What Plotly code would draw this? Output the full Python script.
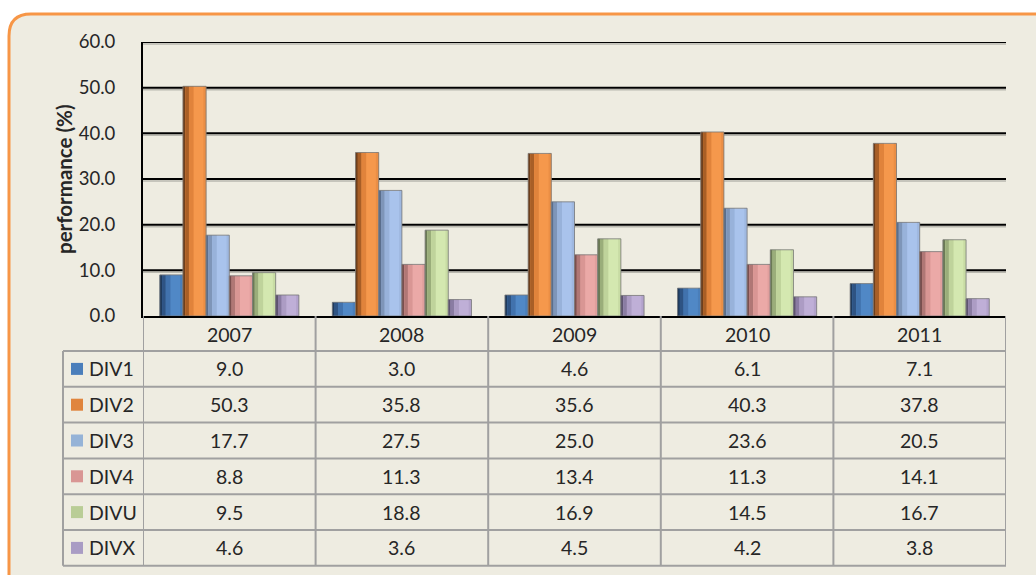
import plotly.graph_objects as go

years = ["2007", "2008", "2009", "2010", "2011"]
series_names = ["DIV1", "DIV2", "DIV3", "DIV4", "DIVU", "DIVX"]
div1 = [9.0, 3.0, 4.6, 6.1, 7.1]
div2 = [50.3, 35.8, 35.6, 40.3, 37.8]
div3 = [17.7, 27.5, 25.0, 23.6, 20.5]
div4 = [8.8, 11.3, 13.4, 11.3, 14.1]
divu = [9.5, 18.8, 16.9, 14.5, 16.7]
divx = [4.6, 3.6, 4.5, 4.2, 3.8]
y_title = "performance (%)"
y_ticks = [0, 10, 20, 30, 40, 50, 60]

all_values = [div1, div2, div3, div4, divu, divx]

# shading palettes: darkest, dark, mid, light, edge, legend key
palettes = [
    ["#1F3A5C", "#2E5383", "#4172AD", "#5088C6", "#4A7EB9", "#4A7EBB"],
    ["#6E3F1C", "#A85E26", "#E0833B", "#F5984C", "#EA8E45", "#E0853D"],
    ["#5A6E8C", "#7E95B8", "#98B2DA", "#A9C3EC", "#9FB8E0", "#95B3D7"],
    ["#7A4F4E", "#B07775", "#D99694", "#EBA9A7", "#E09F9D", "#D99694"],
    ["#6B7A55", "#9AAD7A", "#BFD39B", "#D4E8B0", "#C8DCA4", "#B9CD96"],
    ["#5E5470", "#8A7CA2", "#AC9CC4", "#BFAFD7", "#B3A3CC", "#A99CC4"],
]

W, H = 1036, 575
FONT = "Lato"
TXT = "#262626"
GRID_LINE = "#A0A0A0"
FS = 19.5
TICK_FS = 18.5

def py(px):
    return 1 - px / H

def pxx(px):
    return px / W

x_idx = list(range(len(years)))
n = len(series_names)
group = 0.806
bw = group / n

fig = go.Figure()
strips = [(0.0, 0.10, 0), (0.10, 0.26, 1), (0.26, 0.46, 2), (0.88, 1.0, 4)]
for i, (name, vals, pal) in enumerate(zip(series_names, all_values, palettes)):
    off = -group / 2 + i * bw
    fig.add_trace(go.Bar(x=x_idx, y=vals, name=name, offset=off, width=bw,
                         marker=dict(color=pal[3], line=dict(width=0)),
                         showlegend=False, hoverinfo="y"))
    for a, b, k in strips:
        fig.add_trace(go.Bar(x=x_idx, y=vals, offset=off + a * bw, width=(b - a) * bw,
                             marker=dict(color=pal[k], line=dict(width=0)),
                             showlegend=False, hoverinfo="skip"))
    fig.add_trace(go.Bar(x=x_idx, y=vals, offset=off, width=bw,
                         marker=dict(color="rgba(0,0,0,0)",
                                     line=dict(width=1, color="rgba(120,120,120,0.8)")),
                         showlegend=False, hoverinfo="skip"))

shapes = []
# rounded orange frame
r = 22
x0, y0, x1, y1 = 9, 14, 1060, 600
path = (f"M {pxx(x0)},{py(y0 + r)} "
        f"Q {pxx(x0)},{py(y0)} {pxx(x0 + r)},{py(y0)} "
        f"L {pxx(x1 - r)},{py(y0)} Q {pxx(x1)},{py(y0)} {pxx(x1)},{py(y0 + r)} "
        f"L {pxx(x1)},{py(y1 - r)} Q {pxx(x1)},{py(y1)} {pxx(x1 - r)},{py(y1)} "
        f"L {pxx(x0 + r)},{py(y1)} Q {pxx(x0)},{py(y1)} {pxx(x0)},{py(y1 - r)} Z")
shapes.append(dict(type="path", path=path, xref="paper", yref="paper",
                   fillcolor="#EEECE1", line=dict(color="#F79646", width=3), layer="below"))

# gridlines (black) with a soft shadow underneath
for t in y_ticks[1:]:
    shapes.append(dict(type="line", xref="x domain", yref="y", ysizemode="pixel", yanchor=t,
                       x0=0, x1=1, y0=-2, y1=-2,
                       line=dict(color="rgba(0,0,0,0.22)", width=1.5), layer="below"))
    shapes.append(dict(type="line", xref="x domain", yref="y",
                       x0=0, x1=1, y0=t, y1=t,
                       line=dict(color="black", width=2), layer="below"))

# table geometry (pixels)
plot_bottom = 316
row_h = 35.8
header_bottom = 351
row_tops = [header_bottom + k * row_h for k in range(n + 1)]
label_left = 63

# horizontal table lines
for yt in row_tops:
    shapes.append(dict(type="line", xref="paper", yref="paper",
                       x0=pxx(label_left), x1=pxx(1006), y0=py(yt), y1=py(yt),
                       line=dict(color=GRID_LINE, width=2)))
# vertical column lines (in data coords)
for k in range(len(years) + 1):
    shapes.append(dict(type="line", xref="x", yref="paper",
                       x0=k - 0.5, x1=k - 0.5, y0=py(plot_bottom), y1=py(row_tops[-1]),
                       line=dict(color=GRID_LINE, width=2)))
shapes.append(dict(type="line", xref="paper", yref="paper",
                   x0=pxx(label_left), x1=pxx(label_left), y0=py(header_bottom), y1=py(row_tops[-1]),
                   line=dict(color=GRID_LINE, width=2)))

annotations = []
# year header
for k, yr in enumerate(years):
    annotations.append(dict(x=k, y=py((plot_bottom + header_bottom) / 2 + 1), xref="x", yref="paper",
                            xanchor="center", yanchor="middle",
                            text=yr, showarrow=False, font=dict(family=FONT, size=FS, color=TXT)))
# rows
for i, (name, vals, pal) in enumerate(zip(series_names, all_values, palettes)):
    yc = (row_tops[i] + row_tops[i + 1]) / 2
    shapes.append(dict(type="rect", xref="paper", yref="paper",
                       x0=pxx(71), x1=pxx(83), y0=py(yc - 6), y1=py(yc + 6),
                       fillcolor=pal[5], line=dict(width=0)))
    annotations.append(dict(x=pxx(87), y=py(yc), xref="paper", yref="paper",
                            xanchor="left", yanchor="middle",
                            text=name, showarrow=False, font=dict(family=FONT, size=FS, color=TXT)))
    for k, v in enumerate(vals):
        annotations.append(dict(x=k, y=py(yc), xref="x", yref="paper",
                                xanchor="center", yanchor="middle",
                                text=f"{v:.1f}", showarrow=False,
                                font=dict(family=FONT, size=FS, color=TXT)))

# y axis title
annotations.append(dict(x=pxx(64), y=py(179), xref="paper", yref="paper", text=f"<b>{y_title}</b>",
                        xanchor="center", yanchor="middle",
                        textangle=-90, showarrow=False, font=dict(family=FONT, size=20.5, color=TXT)))

fig.update_layout(
    template="none",
    width=W, height=H,
    margin=dict(l=0, r=0, t=0, b=0, pad=0, autoexpand=False),
    paper_bgcolor="white", plot_bgcolor="rgba(0,0,0,0)",
    barmode="overlay",
    showlegend=False,
    font=dict(family=FONT, color=TXT),
    xaxis=dict(domain=[pxx(143), pxx(1006)], range=[-0.5, len(years) - 0.5],
               showticklabels=False, showgrid=False, zeroline=False, automargin=False,
               showline=True, linecolor="black", linewidth=2, ticks=""),
    yaxis=dict(domain=[py(plot_bottom), py(42)], range=[0, 60], tickvals=y_ticks, tickformat=".1f",
               showgrid=False, zeroline=False, automargin=False,
               showline=True, linecolor="black", linewidth=2, ticks="",
               ticklabelstandoff=22, tickfont=dict(family=FONT, size=TICK_FS, color=TXT)),
    shapes=shapes, annotations=annotations,
)

fig.write_html("out.html", config={"displayModeBar": False},
               post_script="document.body.style.margin='0';document.body.style.overflow='hidden';")
